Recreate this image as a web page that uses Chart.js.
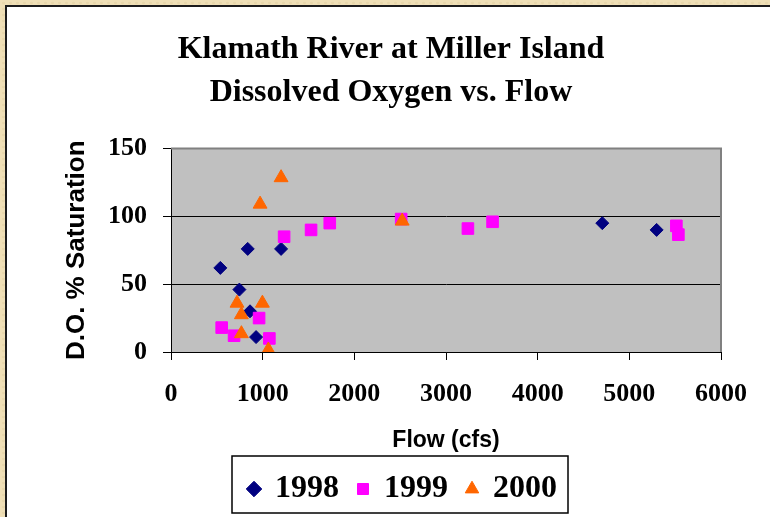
<!DOCTYPE html>
<html>
<head>
<meta charset="utf-8">
<script src="https://cdn.jsdelivr.net/npm/chart.js@4.4.1/dist/chart.umd.min.js"></script>
<style>
  html, body { margin: 0; padding: 0; width: 770px; height: 517px; overflow: hidden; }
  body {
    background-color: #efdfb6;
    background-image: radial-gradient(rgba(170, 140, 80, 0.10) 1px, transparent 2px);
    background-size: 7px 6px;
  }
  #frame {
    position: absolute; left: 5px; top: 5px; width: 800px; height: 530px;
    background: #ffffff; border-left: 2px solid #1b1b1b; border-top: 2px solid #1b1b1b;
  }
  #frame canvas { position: absolute; left: 0; top: 0; }
</style>
</head>
<body>
<div id="frame"><canvas id="doChart" width="770" height="508"></canvas></div>
<script>
// Klamath River at Miller Island - D.O. vs flow
const seriesNames = ['1998', '1999', '2000'];

const flow1998 = [538, 837, 1201, 746, 862, 928, 4705, 5298];
const sat1998  = [62, 76, 76, 46, 30, 11, 95, 90];

const flow1999 = [553, 688, 961, 1073, 1234, 1528, 1732, 2511, 3239, 3508, 5513, 5535];
const sat1999  = [18, 12, 25, 10, 85, 90, 95, 98, 91, 96, 93, 86.5];

const flow2000 = [1201, 972, 2522, 720, 997, 768, 768, 1062];
const sat2000  = [128.5, 109, 96.5, 36, 36, 27.5, 13.5, 1.5];

const xTicks = [0, 1000, 2000, 3000, 4000, 5000, 6000];
const yTicks = [0, 50, 100, 150];

const serif = '"Liberation Serif", "Times New Roman", serif';
const sans = '"Liberation Sans", Arial, sans-serif';

function toPoints(xs, ys) {
    return xs.map((x, i) => ({ x: x, y: ys[i] }));
}

// gray plot area with the gray top/right frame
const plotFrame = {
    id: 'plotFrame',
    beforeDraw(chart) {
        const { ctx, chartArea: a } = chart;
        ctx.save();
        ctx.fillStyle = '#c0c0c0';
        ctx.fillRect(a.left, a.top, a.right - a.left, a.bottom - a.top);
        ctx.restore();
    },
    beforeDatasetsDraw(chart) {
        const { ctx, chartArea: a } = chart;
        ctx.save();
        ctx.strokeStyle = '#808080';
        ctx.lineWidth = 2;
        ctx.beginPath();
        ctx.moveTo(a.left, a.top);
        ctx.lineTo(a.right, a.top);
        ctx.lineTo(a.right, a.bottom);
        ctx.stroke();
        ctx.restore();
    }
};

// move the legend row a bit right and put a box round it
const legendBox = {
    id: 'legendBox',
    afterLayout(chart) {
        const lg = chart.legend;
        if (!lg || !lg.lineWidths) return;
        const pad = lg.options.labels.padding;
        const start = (lg.left + pad + lg.right - lg.lineWidths[0]) / 2;
        const dx = 242 - start;
        lg.left += dx;
        lg.right += dx;
    },
    afterDraw(chart) {
        const lg = chart.legend;
        const hb = lg.legendHitBoxes;
        if (!hb || !hb.length) return;
        const last = hb[hb.length - 1];
        const left = hb[0].left - 17;
        const right = last.left + last.width + 11;
        const ctx = chart.ctx;
        ctx.save();
        ctx.strokeStyle = '#000';
        ctx.lineWidth = 1.5;
        ctx.strokeRect(left, lg.top + 2, right - left, 57);
        ctx.restore();
    }
};

new Chart(document.getElementById('doChart'), {
    type: 'scatter',
    data: {
        datasets: [
            {
                label: seriesNames[0],
                data: toPoints(flow1998, sat1998),
                pointStyle: 'rectRot',
                pointRadius: 6.5,
                borderWidth: 1,
                backgroundColor: '#000080',
                borderColor: '#000080',
                order: 3
            },
            {
                label: seriesNames[1],
                data: toPoints(flow1999, sat1999),
                pointStyle: 'rect',
                pointRadius: 8.2,
                borderWidth: 1,
                backgroundColor: '#ff00ff',
                borderColor: '#ff00ff',
                order: 2
            },
            {
                label: seriesNames[2],
                data: toPoints(flow2000, sat2000),
                pointStyle: 'triangle',
                pointRadius: 8,
                borderWidth: 1,
                backgroundColor: '#ff6600',
                borderColor: '#ff6600',
                order: 1
            }
        ]
    },
    options: {
        responsive: false,
        animation: false,
        layout: { padding: { left: 54, right: 56, top: 0, bottom: 0 } },
        plugins: {
            tooltip: { enabled: false },
            title: {
                display: true,
                text: ['Klamath River at Miller Island', 'Dissolved Oxygen vs. Flow'],
                color: '#000',
                font: { family: serif, size: 32, weight: 'bold', lineHeight: 1.344 },
                padding: { top: 21.5, bottom: 34 }
            },
            legend: {
                position: 'bottom',
                labels: {
                    usePointStyle: true,
                    boxWidth: 10,
                    boxHeight: 11,
                    padding: 19,
                    color: '#000',
                    font: { family: serif, size: 32, weight: 'bold' },
                    sort: (a, b) => a.datasetIndex - b.datasetIndex
                }
            }
        },
        scales: {
            x: {
                type: 'linear',
                min: 0,
                max: 6000,
                afterBuildTicks: axis => { axis.ticks = xTicks.map(v => ({ value: v })); },
                afterFit: axis => { axis.height = 102; },
                ticks: {
                    color: '#000',
                    padding: 19,
                    maxRotation: 0,
                    font: { family: serif, size: 26, weight: 'bold' },
                    callback: v => String(v)
                },
                grid: { drawOnChartArea: false, drawTicks: true, tickLength: 8, tickColor: '#000', color: '#000' },
                border: { color: '#000', width: 1 },
                title: {
                    display: true,
                    text: 'Flow (cfs)',
                    color: '#000',
                    font: { family: sans, size: 23, weight: 'bold' },
                    padding: { top: 0, bottom: 0 }
                }
            },
            y: {
                min: 0,
                max: 150,
                afterBuildTicks: axis => { axis.ticks = yTicks.map(v => ({ value: v })); },
                afterFit: axis => { axis.width = 110; },
                ticks: {
                    color: '#000',
                    padding: 16,
                    font: { family: serif, size: 26, weight: 'bold' },
                    callback: v => String(v)
                },
                grid: { color: '#000', lineWidth: 1, tickLength: 8, tickColor: '#000' },
                border: { color: '#000', width: 1 },
                title: {
                    display: true,
                    text: 'D.O. % Saturation',
                    color: '#000',
                    font: { family: sans, size: 26, weight: 'bold' },
                    padding: { top: 0, bottom: 0 }
                }
            }
        }
    },
    plugins: [plotFrame, legendBox]
});
</script>
</body>
</html>
